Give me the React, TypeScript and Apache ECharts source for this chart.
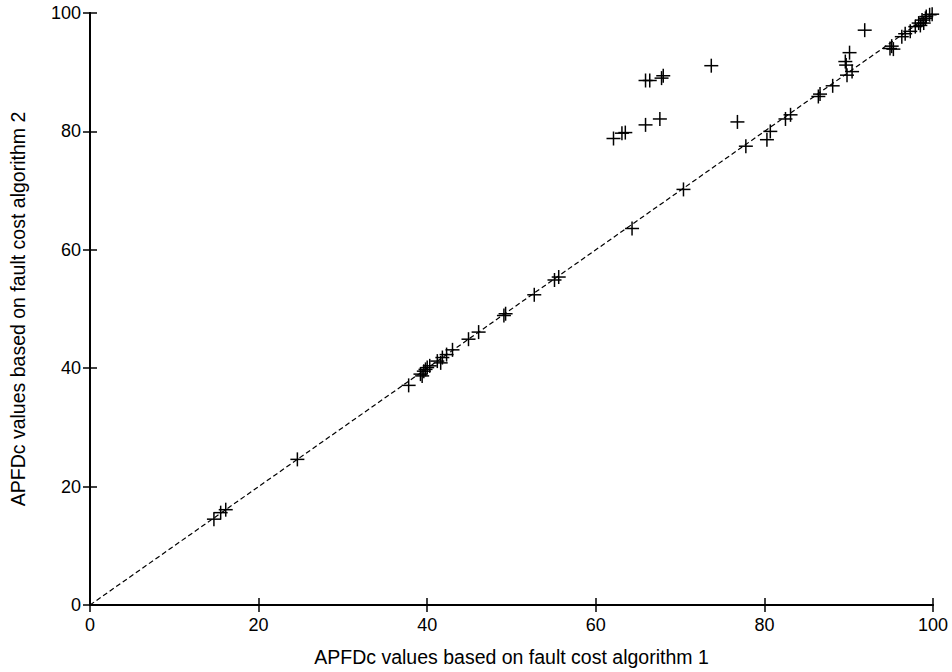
import React, { useEffect, useRef } from "react";
import * as echarts from "echarts";

const xTicks = [0, 20, 40, 60, 80, 100];
const yTicks = [0, 20, 40, 60, 80, 100];

const algo1 = [
  14.7, 15.5, 16.1, 24.6, 37.8, 39.2, 39.4, 39.6, 39.8, 40.0, 40.3, 41.2, 41.6, 41.8, 42.3, 43.0,
  44.9, 46.1, 49.1, 49.3, 52.7, 55.1, 55.6, 64.3, 62.1, 63.1, 63.5, 65.9, 67.6, 65.9, 66.4, 67.8,
  68.0, 73.7, 76.8, 70.4, 77.8, 80.3, 80.7, 82.5, 83.1, 86.4, 86.6, 88.1, 89.6, 89.7, 90.1, 89.8,
  90.4, 94.9, 95.1, 95.3, 96.3, 96.7, 97.3, 97.9, 98.3, 98.5, 98.7, 99.1, 99.2, 99.6, 99.9, 91.9,
  98.9,
];
const algo2 = [
  14.5, 15.6, 16.1, 24.6, 37.1, 39.0, 38.7, 39.5, 39.8, 40.1, 40.4, 41.2, 40.9, 41.8, 42.3, 43.1,
  44.9, 46.1, 48.9, 49.2, 52.4, 54.9, 55.4, 63.6, 78.8, 79.7, 79.8, 81.1, 82.1, 88.6, 88.6, 89.0,
  89.4, 91.1, 81.6, 70.2, 77.5, 78.6, 80.0, 82.1, 82.8, 85.9, 86.3, 87.7, 91.8, 91.2, 93.3, 89.5,
  90.1, 94.0, 94.4, 93.9, 96.0, 96.5, 96.9, 97.7, 98.3, 97.9, 98.8, 99.1, 99.4, 99.7, 99.8, 97.1,
  98.3,
];
const diagonal = [
  [0, 0],
  [100, 100],
];

const xTitle = "APFDc values based on fault cost algorithm 1";
const yTitle = "APFDc values based on fault cost algorithm 2";

export default function App() {
  const ref = useRef<HTMLDivElement>(null);
  useEffect(() => {
    document.body.style.margin = "0";
    if (!ref.current) return;
    const chart = echarts.init(ref.current, null, { renderer: "svg" });
    const font = "Liberation Sans, Arial, Helvetica, sans-serif";
    const points = algo1.map((x, i) => [x, algo2[i]]);
    const lineCommon = { lineStyle: { color: "#000", width: 1.8 } };
    const tickCommon = { inside: true, length: 7, lineStyle: { color: "#000", width: 1.5 } };
    chart.setOption({
      animation: false,
      backgroundColor: "#fff",
      grid: { left: 89, right: 19, top: 13, bottom: 66, containLabel: false },
      xAxis: [
        {
          type: "value",
          min: xTicks[0],
          max: xTicks[xTicks.length - 1],
          interval: 20,
          position: "bottom",
          axisLine: { show: true, ...lineCommon },
          axisTick: tickCommon,
          splitLine: { show: false },
          axisLabel: {
            color: "#000",
            fontSize: 18,
            fontFamily: font,
            margin: 11,
          },
          name: xTitle,
          nameLocation: "middle",
          nameGap: 42,
          nameTextStyle: { color: "#000", fontSize: 19.5, fontFamily: font },
        },
        {
          type: "value",
          min: 0,
          max: 100,
          interval: 20,
          position: "top",
          axisLine: { show: true, ...lineCommon },
          axisTick: tickCommon,
          splitLine: { show: false },
          axisLabel: { show: false },
        },
      ],
      yAxis: [
        {
          type: "value",
          min: yTicks[0],
          max: yTicks[yTicks.length - 1],
          interval: 20,
          position: "left",
          axisLine: { show: true, ...lineCommon },
          axisTick: tickCommon,
          splitLine: { show: false },
          axisLabel: {
            color: "#000",
            fontSize: 18,
            fontFamily: font,
            margin: 9,
          },
          name: yTitle,
          nameLocation: "middle",
          nameGap: 62,
          nameTextStyle: { color: "#000", fontSize: 19.5, fontFamily: font },
        },
        {
          type: "value",
          min: 0,
          max: 100,
          interval: 20,
          position: "right",
          axisLine: { show: true, ...lineCommon },
          axisTick: tickCommon,
          splitLine: { show: false },
          axisLabel: { show: false },
        },
      ],
      series: [
        {
          type: "line",
          data: diagonal,
          xAxisIndex: 0,
          yAxisIndex: 0,
          symbol: "none",
          lineStyle: { color: "#000", width: 1.2, type: [5, 3] },
          silent: true,
        },
        {
          type: "custom",
          xAxisIndex: 0,
          yAxisIndex: 0,
          data: points,
          encode: { x: 0, y: 1 },
          renderItem: (params: any, api: any) => {
            const p = api.coord([api.value(0), api.value(1)]);
            const h = 7;
            const st = { stroke: "#000", lineWidth: 1.5 };
            return {
              type: "group",
              children: [
                { type: "line", shape: { x1: p[0] - h, y1: p[1], x2: p[0] + h, y2: p[1] }, style: st },
                { type: "line", shape: { x1: p[0], y1: p[1] - h, x2: p[0], y2: p[1] + h }, style: st },
              ],
            };
          },
        },
      ],
    });
    return () => chart.dispose();
  }, []);
  return <div ref={ref} style={{ width: 952, height: 672 }} />;
}
